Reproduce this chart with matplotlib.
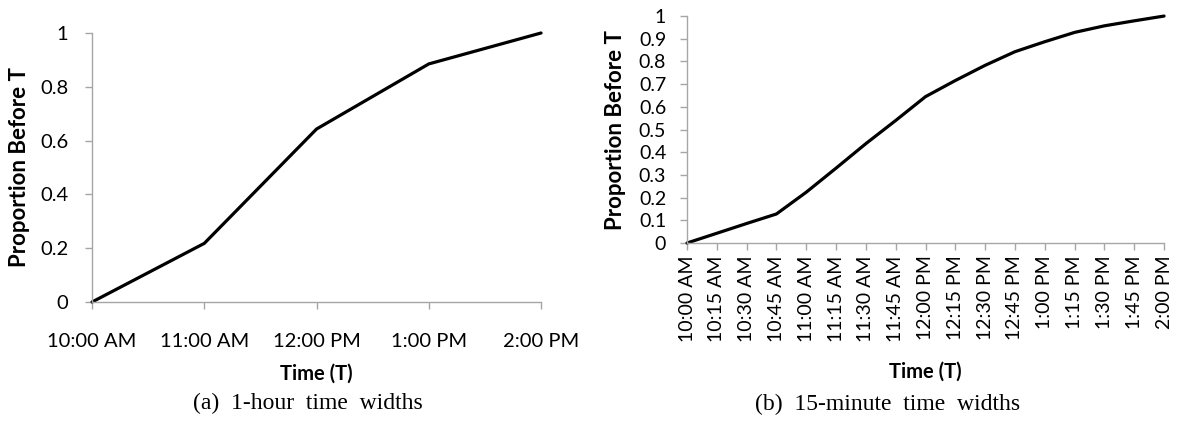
import matplotlib
matplotlib.use("Agg")
import matplotlib.pyplot as plt

# data
hour_labels = ["10:00 AM", "11:00 AM", "12:00 PM", "1:00 PM", "2:00 PM"]
hour_values = [0.0, 0.218, 0.643, 0.885, 1.0]

quarter_labels = ["10:00 AM", "10:15 AM", "10:30 AM", "10:45 AM", "11:00 AM",
                  "11:15 AM", "11:30 AM", "11:45 AM", "12:00 PM", "12:15 PM",
                  "12:30 PM", "12:45 PM", "1:00 PM", "1:15 PM", "1:30 PM",
                  "1:45 PM", "2:00 PM"]
quarter_values = [0.0, 0.043, 0.086, 0.128, 0.224, 0.330, 0.438, 0.540, 0.645,
                  0.716, 0.783, 0.843, 0.887, 0.928, 0.957, 0.979, 1.0]

left_yticks = [0, 0.2, 0.4, 0.6, 0.8, 1]
left_ylabels = ["0", "0.2", "0.4", "0.6", "0.8", "1"]
right_yticks = [i / 10 for i in range(11)]
right_ylabels = ["0"] + ["0.%d" % i for i in range(1, 10)] + ["1"]

plt.rcParams['font.family'] = ['Lato', 'DejaVu Sans']
axis_col = "#a6a6a6"

fig = plt.figure(figsize=(11.77, 4.25), dpi=100)
ax1 = fig.add_axes([0.0782, 0.2894, 0.3815, 0.633])
ax2 = fig.add_axes([0.5837, 0.4282, 0.4053, 0.534])


def style(ax):
    for s in ["top", "right"]:
        ax.spines[s].set_visible(False)
    for s in ["left", "bottom"]:
        ax.spines[s].set_color(axis_col)
        ax.spines[s].set_linewidth(1.0)
    ax.tick_params(colors=axis_col, length=5, width=1.0, labelcolor="black")
    ax.set_ylim(0, 1)


ax1.plot(range(len(hour_values)), hour_values, color="black", lw=2.3,
         solid_capstyle="round", clip_on=False)
style(ax1)
ax1.set_xlim(0, len(hour_values) - 1)
ax1.set_xticks(range(len(hour_labels)))
ax1.set_xticklabels(hour_labels, fontsize=14.5)
ax1.set_yticks(left_yticks)
ax1.set_yticklabels(left_ylabels, fontsize=14.5)
ax1.tick_params(axis="y", pad=12)
ax1.tick_params(axis="x", pad=17)
ax1.set_xlabel("Time (T)", fontsize=14.5, fontweight="bold", labelpad=10)
ax1.set_ylabel("Proportion Before T", fontsize=16, fontweight="bold", labelpad=7)

ax2.plot(range(len(quarter_values)), quarter_values, color="black", lw=2.3,
         solid_capstyle="round", clip_on=False)
style(ax2)
ax2.set_xlim(0, len(quarter_values) - 1)
ax2.set_xticks(range(len(quarter_labels)))
ax2.set_xticklabels(quarter_labels, fontsize=14, rotation=90)
ax2.set_yticks(right_yticks)
ax2.set_yticklabels(right_ylabels, fontsize=14)
ax2.tick_params(axis="y", pad=10)
ax2.tick_params(axis="x", pad=4)
ax2.set_xlabel("Time (T)", fontsize=14.5, fontweight="bold", labelpad=14)
ax2.set_ylabel("Proportion Before T", fontsize=16, fontweight="bold", labelpad=9)

fig.text(308 / 1177, 1 - 403 / 425, "(a)  1-hour  time  widths", ha="center",
         va="center", fontsize=17, family="Liberation Serif")
fig.text(888 / 1177, 1 - 404 / 425, "(b)  15-minute  time  widths", ha="center",
         va="center", fontsize=17, family="Liberation Serif")

fig.savefig("out.png", dpi=100)
